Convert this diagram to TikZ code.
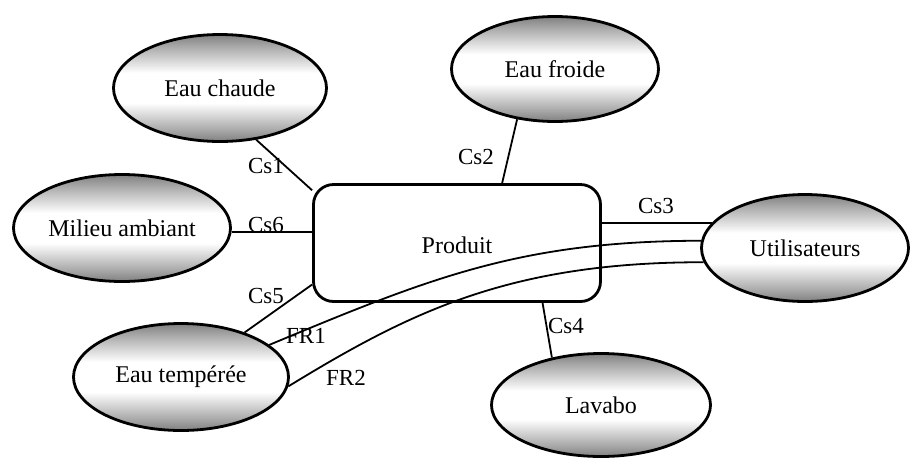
\documentclass[tikz,border=0pt]{standalone}
\usepackage{fontspec}
\setmainfont{Liberation Serif}
\usetikzlibrary{shapes.geometric,calc}
\definecolor{shd}{gray}{0.5}
\pgfdeclareverticalshading{ellshade}{100bp}{color(0bp)=(shd); color(25bp)=(shd); color(30bp)=(shd!70!white); color(43bp)=(white); color(57bp)=(white); color(70bp)=(shd!70!white); color(75bp)=(shd); color(100bp)=(shd)}
\begin{document}
\begin{tikzpicture}[x=1pt,y=-1pt,
  ell/.style={ellipse, draw, line width=2.8pt, shade, shading=ellshade, inner sep=0pt, font=\fontsize{24}{28}\selectfont},
  conn/.style={line width=1.8pt},
  lbl/.style={font=\fontsize{23}{27}\selectfont, inner sep=0pt}]
\useasboundingbox (0,0) rectangle (911,459);
% ellipses
\node[ell, minimum width=213pt, minimum height=107pt] (chaude) at (220,88) {Eau chaude};
\node[ell, minimum width=207pt, minimum height=105pt] (froide) at (555,69) {Eau froide};
\node[ell, minimum width=217pt, minimum height=107pt] (ambiant) at (122,228) {Milieu ambiant};
\node[ell, minimum width=215pt, minimum height=107pt] (temp) at (181,377) {Eau tempérée};
\node[ell, minimum width=207pt, minimum height=107pt] (util) at (805,248) {Utilisateurs};
\node[ell, minimum width=219pt, minimum height=103pt] (lavabo) at (601,405) {Lavabo};
% product box
\node[draw, line width=2.8pt, rounded corners=20pt, minimum width=287pt, minimum height=117pt, inner sep=0pt] (prod) at (457,243) {};
\node[inner sep=0pt, font=\fontsize{24}{28}\selectfont] (prodtxt) at (457,245) {Produit};
% connectors
\draw[conn] (chaude.-55) -- (prod.160.5);
\draw[conn] (froide.-127.5) -- (prod.53.1);
\draw[conn] (ambiant.-2) -- (ambiant.-2 -| prod.west);
\draw[conn] (temp.35) -- (prod.-164);
\draw[conn] (util.165 -| prod.east) -- (util.165);
\draw[conn] (prod.-35.5) -- (lavabo.136.6);
\draw[conn] (temp.20) .. controls (430,278) and (520,241) .. (util.176);
\draw[conn] (temp.-5) .. controls (410,312) and (510,262) .. (util.188);
% labels
\node[lbl] (cs1) at (266,166) {Cs1};
\node[lbl] (cs6) at (266,225) {Cs6};
\node[lbl] (cs5) at (266,296) {Cs5};
\node[lbl] (fr1) at (306,336) {FR1};
\node[lbl] (fr2) at (346,378) {FR2};
\node[lbl] (cs2) at (476,157) {Cs2};
\node[lbl] (cs3) at (656,206) {Cs3};
\node[lbl] (cs4) at (566,326) {Cs4};
\end{tikzpicture}
\end{document}
